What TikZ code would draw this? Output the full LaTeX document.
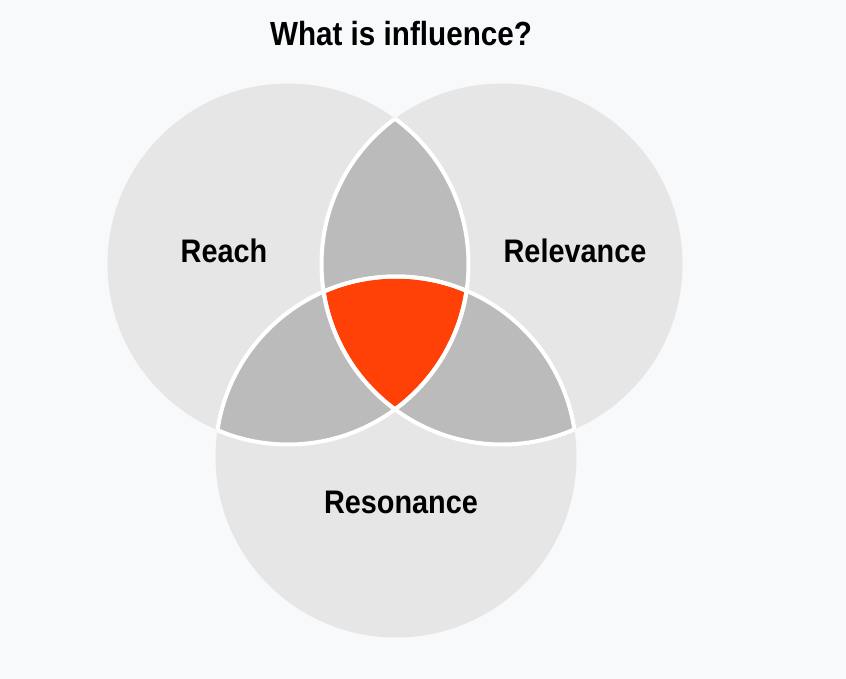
\documentclass[tikz,border=0pt]{standalone}
\usepackage{fontspec}
\setmainfont{Liberation Sans}[FakeStretch=0.885]
\definecolor{bgc}{HTML}{F8F9FB}
\definecolor{circc}{HTML}{E6E6E6}
\definecolor{lensc}{HTML}{BBBBBB}
\definecolor{redc}{HTML}{FF4108}
\tikzset{
  lab/.style={font=\fontsize{32.6}{36}\selectfont\bfseries, text=black, inner sep=0pt, anchor=base},
  outline/.style={draw=white, line width=4pt}
}
\begin{document}
\begin{tikzpicture}[x=1pt,y=-1pt]
\fill[bgc] (0,0) rectangle (846,679);
\useasboundingbox (0,0) rectangle (846,679);
\coordinate (cA) at (288,264);
\coordinate (cB) at (502,264);
\coordinate (cC) at (396,457);
\def\rr{180.5pt}
\fill[circc] (cA) circle[radius=\rr];
\fill[circc] (cB) circle[radius=\rr];
\fill[circc] (cC) circle[radius=\rr];
\begin{scope}
  \clip (cA) circle[radius=\rr];
  \fill[lensc] (cB) circle[radius=\rr];
  \fill[lensc] (cC) circle[radius=\rr];
\end{scope}
\begin{scope}
  \clip (cB) circle[radius=\rr];
  \fill[lensc] (cC) circle[radius=\rr];
\end{scope}
\begin{scope}
  \clip (cA) circle[radius=\rr];
  \clip (cB) circle[radius=\rr];
  \fill[redc] (cC) circle[radius=\rr];
\end{scope}
% white outlines only where a circle lies inside another one
\begin{scope}
  \clip (cA) circle[radius=\rr];
  \draw[outline] (cB) circle[radius=\rr];
  \draw[outline] (cC) circle[radius=\rr];
\end{scope}
\begin{scope}
  \clip (cB) circle[radius=\rr];
  \draw[outline] (cA) circle[radius=\rr];
  \draw[outline] (cC) circle[radius=\rr];
\end{scope}
\begin{scope}
  \clip (cC) circle[radius=\rr];
  \draw[outline] (cA) circle[radius=\rr];
  \draw[outline] (cB) circle[radius=\rr];
\end{scope}
\node[lab, font=\fontsize{33.5}{37}\selectfont\bfseries] (title) at (401,46) {What is influence?};
\node[lab] (reach) at (224,262) {Reach};
\node[lab] (relev) at (575,262) {Relevance};
\node[lab] (reson) at (401,513) {Resonance};
\end{tikzpicture}
\end{document}
